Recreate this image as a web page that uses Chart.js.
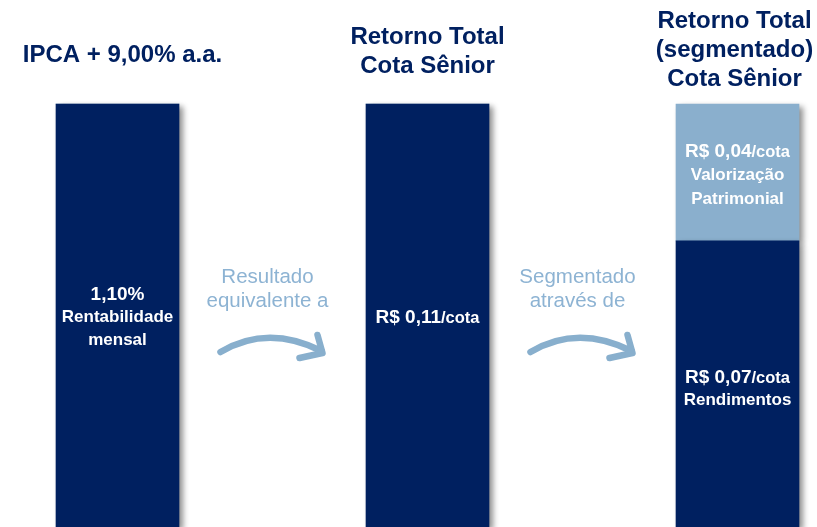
<!DOCTYPE html>
<html>
<head>
<meta charset="utf-8">
<script src="https://cdn.jsdelivr.net/npm/chart.js@4"></script>
<style>
  html, body { margin: 0; padding: 0; background: #fff; overflow: hidden; }
  #wrap { position: relative; width: 817px; height: 527px; }
</style>
</head>
<body>
<div id="wrap"><canvas id="myChart"></canvas></div>
<script>
// column headers
const headers = [
  ['IPCA + 9,00% a.a.'],
  ['Retorno Total', 'Cota Sênior'],
  ['Retorno Total', '(segmentado)', 'Cota Sênior']
]
const categories = ['IPCA', 'Retorno Total', 'Retorno Total (segmentado)']

// bar heights as drawn (the picture is not to scale)
const rendimentos = [0.11, 0.11, 0.0744]
const valorizacao = [0, 0, 0.0356]

// text inside the bars
const baseLabels = [
  ['1,10%', 'Rentabilidade', 'mensal'],
  ['R$ 0,11/cota'],
  ['R$ 0,07/cota', 'Rendimentos']
]
const topLabels = [[], [], ['R$ 0,04/cota', 'Valorização', 'Patrimonial']]

// text over the arrows between columns
const arrowTexts = [
  ['Resultado', 'equivalente a'],
  ['Segmentado', 'através de']
]

const navy = '#002060'
const lightBlue = '#8AAFCD'
const arrowBlue = '#88AFCD'
const font = '"Liberation Sans", Arial, sans-serif'

const shadowPlugin = {
  id: 'shadow',
  beforeDatasetsDraw(chart) {
    const ctx = chart.ctx
    ctx.save()
    ctx.shadowColor = 'rgba(0,0,0,0.45)'
    ctx.shadowBlur = 6
    ctx.shadowOffsetX = 4
    ctx.shadowOffsetY = 3
  },
  afterDatasetsDraw(chart) {
    chart.ctx.restore()
  }
}

function drawLine(ctx, text, x, y) {
  // "R$ 0,11/cota" -> big value + smaller unit
  if (text.startsWith('R$')) {
    const i = text.indexOf('/')
    const a = text.slice(0, i), b = text.slice(i)
    ctx.font = 'bold 19px ' + font
    const wa = ctx.measureText(a).width
    ctx.font = 'bold 16.5px ' + font
    const wb = ctx.measureText(b).width
    let x0 = x - (wa + wb) / 2
    ctx.textAlign = 'left'
    ctx.font = 'bold 19px ' + font
    ctx.fillText(a, x0, y)
    ctx.font = 'bold 16.5px ' + font
    ctx.fillText(b, x0 + wa, y + 1)
    ctx.textAlign = 'center'
  } else if (text.endsWith('%')) {
    ctx.font = 'bold 19px ' + font
    ctx.fillText(text, x, y)
  } else {
    ctx.font = 'bold 17px ' + font
    ctx.fillText(text, x, y)
  }
}

function drawBlock(ctx, lines, x, yc, step) {
  const y0 = yc - (lines.length - 1) * step / 2
  lines.forEach((l, i) => drawLine(ctx, l, x, y0 + i * step))
}

function drawArrow(ctx, mx) {
  ctx.save()
  ctx.strokeStyle = arrowBlue
  ctx.lineWidth = 6.5
  ctx.lineCap = 'round'
  ctx.lineJoin = 'round'
  ctx.beginPath()
  ctx.moveTo(mx - 52, 352)
  ctx.quadraticCurveTo(mx - 5, 324, mx + 49, 351)
  ctx.stroke()
  ctx.beginPath()
  ctx.moveTo(mx + 45, 335)
  ctx.lineTo(mx + 50, 353)
  ctx.lineTo(mx + 27, 358)
  ctx.stroke()
  ctx.restore()
}

const textPlugin = {
  id: 'texts',
  afterDraw(chart) {
    const ctx = chart.ctx
    const xs = chart.scales.x
    ctx.save()
    ctx.textAlign = 'center'
    ctx.textBaseline = 'middle'

    // headers
    const headerY = [[55], [37, 66], [21, 50, 79]]
    const headerShift = [5, 0, -3]
    ctx.fillStyle = navy
    ctx.font = 'bold 24px ' + font
    headers.forEach((lines, i) => {
      const x = xs.getPixelForValue(i) + headerShift[i]
      lines.forEach((l, j) => ctx.fillText(l, x, headerY[i][j]))
    })

    // labels inside bars
    ctx.fillStyle = '#fff'
    const base = chart.getDatasetMeta(0).data
    const top = chart.getDatasetMeta(1).data
    base.forEach((bar, i) => {
      const yc = (bar.y + bar.base) / 2 + (i === 2 ? 5 : 2)
      drawBlock(ctx, baseLabels[i], bar.x, yc, 23)
      if (topLabels[i].length) {
        const t = top[i]
        drawBlock(ctx, topLabels[i], t.x, (t.y + t.base) / 2 + 3, 24)
      }
    })

    // arrows and their captions
    for (let i = 0; i < arrowTexts.length; i++) {
      const mx = (xs.getPixelForValue(i) + xs.getPixelForValue(i + 1)) / 2
      ctx.fillStyle = '#8DB3D3'
      ctx.font = '20.5px ' + font
      arrowTexts[i].forEach((l, j) => ctx.fillText(l, mx - 5, 277 + j * 24))
      drawArrow(ctx, mx)
    }
    ctx.restore()
  }
}

const data = {
  labels: categories,
  datasets: [
    {
      label: 'Rendimentos',
      data: rendimentos,
      backgroundColor: navy,
      barThickness: 123,
      clip: false
    },
    {
      label: 'Valorização Patrimonial',
      data: valorizacao,
      backgroundColor: lightBlue,
      barThickness: 123,
      clip: false
    }
  ]
}

const config = {
  type: 'bar',
  data: data,
  options: {
    responsive: true,
    maintainAspectRatio: false,
    animation: false,
    layout: { padding: { left: 117.5, right: 79.5, top: 0, bottom: 0 } },
    plugins: { legend: { display: false }, tooltip: { enabled: false } },
    scales: {
      x: { stacked: true, offset: false, display: false },
      y: { stacked: true, min: 0, max: 0.13705, display: false }
    }
  },
  plugins: [shadowPlugin, textPlugin]
}

const myChart = new Chart(document.getElementById('myChart').getContext('2d'), config)
</script>
</body>
</html>
